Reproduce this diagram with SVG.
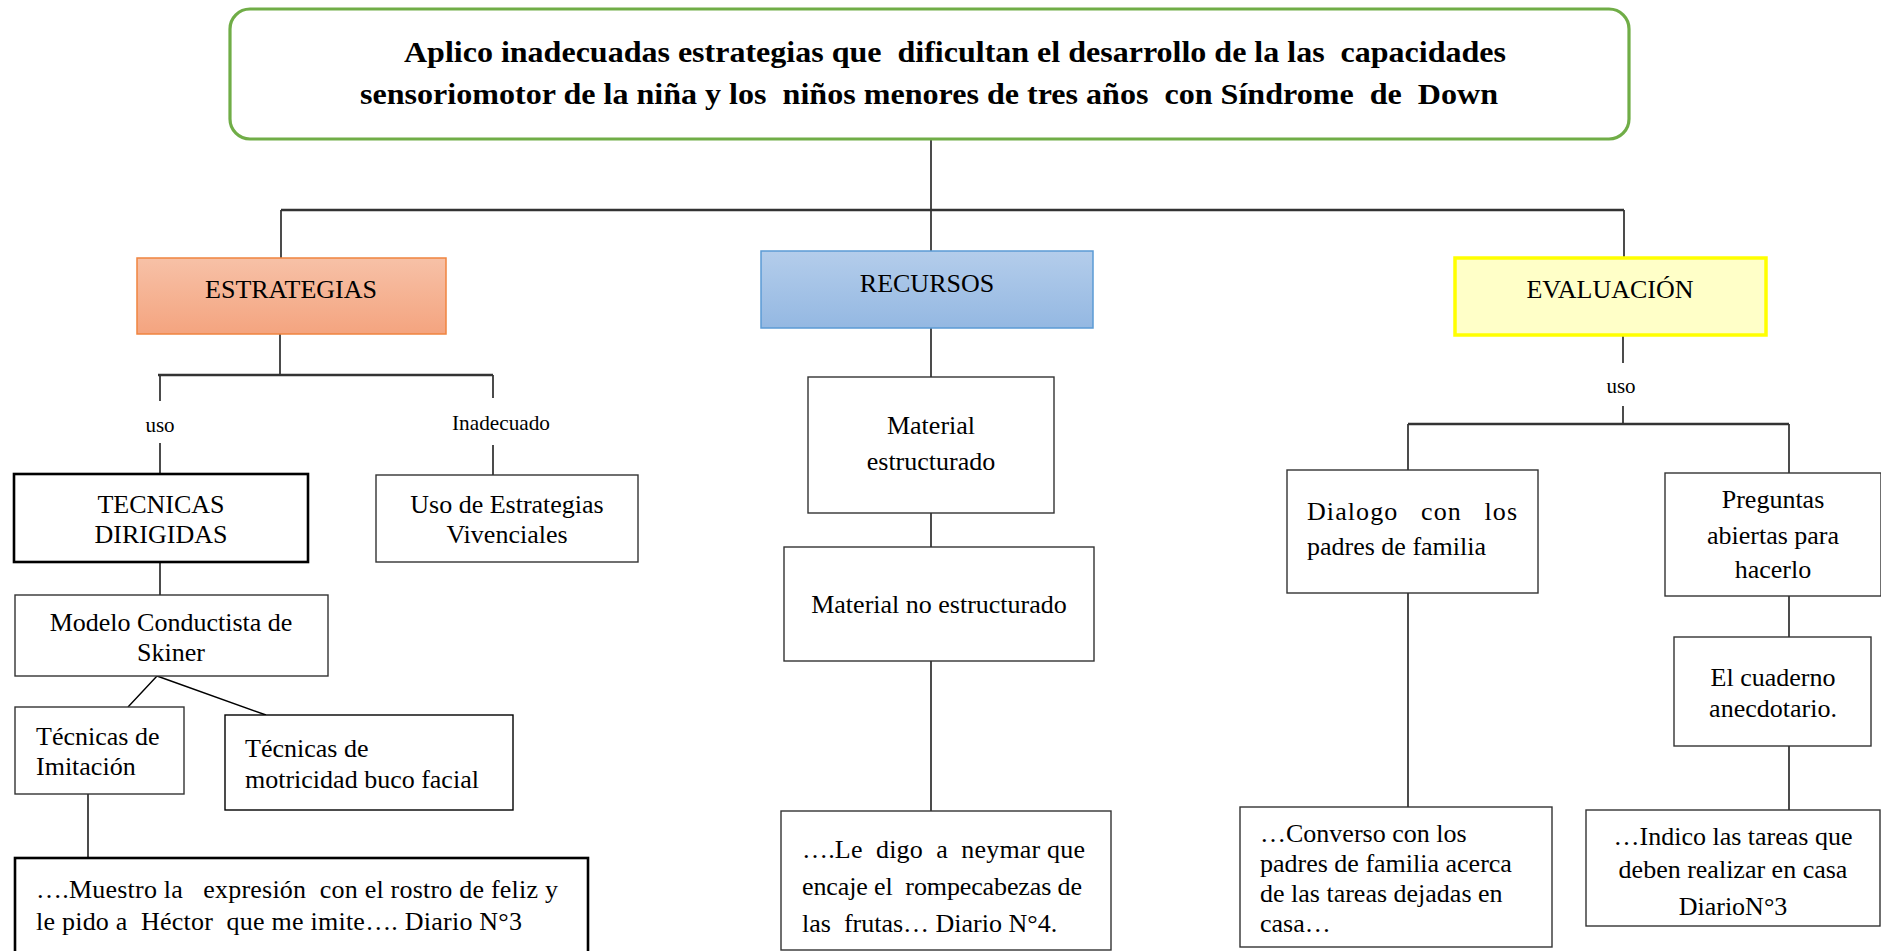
<svg xmlns="http://www.w3.org/2000/svg" width="1881" height="951" viewBox="0 0 1881 951">
<defs>
<linearGradient id="gOrange" x1="0" y1="0" x2="0" y2="1"><stop offset="0" stop-color="#F7C1A7"/><stop offset="1" stop-color="#F4A47F"/></linearGradient>
<linearGradient id="gBlue" x1="0" y1="0" x2="0" y2="1"><stop offset="0" stop-color="#B4CDEB"/><stop offset="1" stop-color="#94B8E2"/></linearGradient>
<style>
text{font-family:"Liberation Serif","Times New Roman",serif;font-size:26px;fill:#000;white-space:pre}
.c{text-anchor:middle}
.box{fill:#fff;stroke:#333;stroke-width:1.4}
.thick{fill:#fff;stroke:#000;stroke-width:2.6}
.ln{stroke:#000;stroke-width:1.4;fill:none}
.bar{stroke:#333;stroke-width:2.4;fill:none}
.lbl{font-size:21px}
.title{font-weight:bold;font-size:30px}
</style>
</defs>
<rect width="1881" height="951" fill="#fff"/>
<g id="connectors">
<path class="ln" d="M931 140V210M281 210V258M931 210V251M1624 210V258"/>
<path class="bar" d="M281 210H1624"/>
<path class="ln" d="M280 334V375M160 375V401M160 443V474M493 375V398M493 445V475"/>
<path class="bar" d="M158 375H493"/>
<path class="ln" d="M160 562V595M157 676L128 707M157 676L266 715M88 794V858"/>
<path class="ln" d="M931 328V377M931 513V547M931 661V811"/>
<path class="ln" d="M1623 335V363M1623 406V424M1408 424V470M1789 424V473"/>
<path class="bar" d="M1408 424H1789"/>
<path class="ln" d="M1408 593V807M1789 596V637M1789 746V810"/>
<text class="lbl c" x="160" y="432">uso</text>
<text class="lbl c" x="501" y="430" textLength="98" lengthAdjust="spacingAndGlyphs">Inadecuado</text>
<text class="lbl c" x="1621" y="393">uso</text>
</g>
<g id="title">
<rect x="230" y="9" width="1399" height="130" rx="20" fill="#fff" stroke="#70AD47" stroke-width="3.2"/>
<text class="title" x="404" y="62" textLength="1102" lengthAdjust="spacingAndGlyphs">Aplico inadecuadas estrategias que  dificultan el desarrollo de la las  capacidades</text>
<text class="title" x="360" y="104" textLength="1138" lengthAdjust="spacingAndGlyphs">sensoriomotor de la niña y los  niños menores de tres años  con Síndrome  de  Down</text>
</g>
<g id="estrategias">
<rect x="137" y="258" width="309" height="76" fill="url(#gOrange)" stroke="#F0843F" stroke-width="1.5"/>
<text class="c" x="291" y="298">ESTRATEGIAS</text>
</g>
<g id="recursos">
<rect x="761" y="251" width="332" height="77" fill="url(#gBlue)" stroke="#5B9BD5" stroke-width="1.5"/>
<text class="c" x="927" y="292">RECURSOS</text>
</g>
<g id="evaluacion">
<rect x="1455" y="258" width="311" height="77" fill="#FFFFC8" stroke="#FFFF00" stroke-width="3.5"/>
<text class="c" x="1610" y="298">EVALUACIÓN</text>
</g>
<g id="tecnicas">
<rect class="thick" x="14" y="474" width="294" height="88"/>
<text class="c" x="161" y="513">TECNICAS</text>
<text class="c" x="161" y="543">DIRIGIDAS</text>
</g>
<g id="vivenciales">
<rect class="box" x="376" y="475" width="262" height="87"/>
<text class="c" x="507" y="513">Uso de Estrategias</text>
<text class="c" x="507" y="543">Vivenciales</text>
</g>
<g id="modelo">
<rect class="box" x="15" y="595" width="313" height="81"/>
<text class="c" x="171" y="631">Modelo Conductista de</text>
<text class="c" x="171" y="661">Skiner</text>
</g>
<g id="imitacion">
<rect class="box" x="15" y="707" width="169" height="87"/>
<text x="36" y="745">Técnicas de</text>
<text x="36" y="775">Imitación</text>
</g>
<g id="motricidad">
<rect class="box" x="225" y="715" width="288" height="95" style="stroke:#000"/>
<text x="245" y="757">Técnicas de</text>
<text x="245" y="788">motricidad buco facial</text>
</g>
<g id="muestro">
<rect class="thick" x="15" y="858" width="573" height="100"/>
<text x="36" y="898" textLength="522" lengthAdjust="spacing">….Muestro la   expresión  con el rostro de feliz y</text>
<text x="36" y="930" textLength="486" lengthAdjust="spacing">le pido a  Héctor  que me imite…. Diario N°3</text>
</g>
<g id="material-estructurado">
<rect class="box" x="808" y="377" width="246" height="136"/>
<text class="c" x="931" y="434">Material</text>
<text class="c" x="931" y="470">estructurado</text>
</g>
<g id="material-no-estructurado">
<rect class="box" x="784" y="547" width="310" height="114"/>
<text class="c" x="939" y="613">Material no estructurado</text>
</g>
<g id="le-digo">
<rect class="box" x="781" y="811" width="330" height="139"/>
<text x="802" y="858" textLength="283" lengthAdjust="spacing">….Le  digo  a  neymar que</text>
<text x="802" y="895" textLength="280" lengthAdjust="spacing">encaje el  rompecabezas de</text>
<text x="802" y="932">las  frutas… Diario N°4.</text>
</g>
<g id="dialogo">
<rect class="box" x="1287" y="470" width="251" height="123"/>
<text x="1307" y="520" textLength="210" lengthAdjust="spacing">Dialogo   con   los</text>
<text x="1307" y="555">padres de familia</text>
</g>
<g id="preguntas">
<rect class="box" x="1665" y="473" width="216" height="123"/>
<text class="c" x="1773" y="508">Preguntas</text>
<text class="c" x="1773" y="544">abiertas para</text>
<text class="c" x="1773" y="578">hacerlo</text>
</g>
<g id="cuaderno">
<rect class="box" x="1674" y="637" width="197" height="109"/>
<text class="c" x="1773" y="686">El cuaderno</text>
<text class="c" x="1773" y="717">anecdotario.</text>
</g>
<g id="conversa">
<rect class="box" x="1240" y="807" width="312" height="140"/>
<text x="1260" y="842">…Converso con los</text>
<text x="1260" y="872">padres de familia acerca</text>
<text x="1260" y="902">de las tareas dejadas en</text>
<text x="1260" y="932">casa…</text>
</g>
<g id="indico">
<rect class="box" x="1586" y="810" width="294" height="116"/>
<text class="c" x="1733" y="845">…Indico las tareas que</text>
<text class="c" x="1733" y="878">deben realizar en casa</text>
<text class="c" x="1733" y="915">DiarioN°3</text>
</g>
</svg>
